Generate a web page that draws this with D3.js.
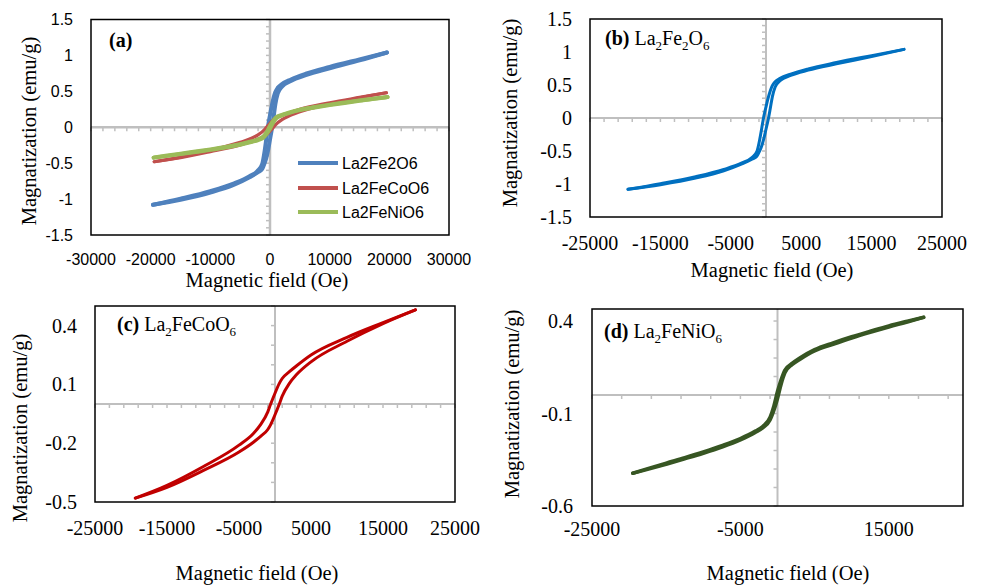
<!DOCTYPE html>
<html>
<head>
<meta charset="utf-8">
<title>M-H loops</title>
<script src="https://d3js.org/d3.v7.min.js"></script>
<style>
  body { margin: 0; background: #fff; }
  .sans { font-family: "Liberation Sans", Arial, sans-serif; }
  .serif { font-family: "Liberation Serif", "Times New Roman", serif; }
</style>
</head>
<body>
<svg id="chart" width="983" height="585"></svg>
<script>
// hysteresis loops (Oe, emu/g)
// each sample: field grid, upper (descending) branch, lower (ascending) branch
var fieldFe2 = [-19600, -15000, -10000, -6000, -3500, -2000, -1300, -900, -600, -300, 0,
                300, 600, 900, 1300, 2000, 3500, 6000, 10000, 15000, 19600];
var upperFe2 = [-1.08, -0.995, -0.89, -0.78, -0.685, -0.60, -0.51, -0.33, -0.15, 0.03, 0.17,
                0.30, 0.41, 0.49, 0.55, 0.60, 0.665, 0.745, 0.84, 0.945, 1.04];
var lowerFe2 = [-1.08, -1.01, -0.91, -0.80, -0.70, -0.625, -0.58, -0.50, -0.42, -0.31, -0.17,
                -0.03, 0.14, 0.32, 0.47, 0.565, 0.645, 0.725, 0.82, 0.93, 1.04];

var fieldCo = [-19400, -15000, -10000, -5000, -3000, -2000, -1000, -600, 0,
               600, 1000, 2000, 3000, 5000, 10000, 15000, 19500];
var upperCo = [-0.48, -0.415, -0.32, -0.21, -0.15, -0.105, -0.04, 0.0, 0.055,
               0.105, 0.13, 0.165, 0.195, 0.25, 0.34, 0.415, 0.48];
var lowerCo = [-0.48, -0.425, -0.34, -0.245, -0.195, -0.165, -0.13, -0.105, -0.055,
               0.0, 0.04, 0.105, 0.15, 0.215, 0.32, 0.41, 0.48];

var fieldNi = [-19500, -17500, -15000, -12500, -10000, -7500, -5000, -3000, -2000, -1000, -500, 0,
               500, 1000, 2000, 3000, 5000, 7500, 10000, 12500, 15000, 17500, 19700];
var upperNi = [-0.423, -0.398, -0.368, -0.339, -0.308, -0.274, -0.235, -0.195, -0.17, -0.12, -0.06, 0.02,
               0.085, 0.135, 0.172, 0.20, 0.245, 0.282, 0.315, 0.345, 0.374, 0.399, 0.42];
var lowerNi = [-0.423, -0.402, -0.374, -0.345, -0.315, -0.282, -0.243, -0.203, -0.178, -0.135, -0.085, -0.02,
               0.06, 0.12, 0.165, 0.192, 0.238, 0.274, 0.308, 0.339, 0.368, 0.395, 0.42];

var sampleNames = ["La2Fe2O6", "La2FeCoO6", "La2FeNiO6"];

var xTicksA = [-30000, -20000, -10000, 0, 10000, 20000, 30000];
var xTicksBC = [-25000, -15000, -5000, 5000, 15000, 25000];
var xTicksD = [-25000, -5000, 15000];
var yTicksAB = [1.5, 1, 0.5, 0, -0.5, -1, -1.5];
var yTicksC = [0.4, 0.1, -0.2, -0.5];
var yTicksD = [0.4, -0.1, -0.6];

var loops = {
  fe2: { field: fieldFe2, upper: upperFe2, lower: lowerFe2 },
  co: { field: fieldCo, upper: upperCo, lower: lowerCo },
  ni: { field: fieldNi, upper: upperNi, lower: lowerNi }
};

var panels = [
  { box: [91, 19.5, 449, 235], xDom: [-30000, 30000], yDom: [-1.5, 1.5],
    xTicks: xTicksA, yTicks: yTicksAB, xMinor: 2000, yMinor: 0.1,
    tickClass: "sans", tickSize: 16, xLabY: 30, yLabX: 18, axisW: 2.5,
    label: ["(a)"], labelPos: [109, 47],
    xTitle: [267, 287], yTitle: [36, 131],
    series: [
      { loop: "fe2", color: "#4F81BD", width: 4 },
      { loop: "co", color: "#C0504D", width: 3.2 },
      { loop: "ni", color: "#9BBB59", width: 4 }
    ] },
  { box: [590, 19, 942, 217], xDom: [-25000, 25000], yDom: [-1.5, 1.5],
    xTicks: xTicksBC, yTicks: yTicksAB, xMinor: 2000, yMinor: 0.1,
    tickClass: "serif", tickSize: 20, xLabY: 33, yLabX: 18, axisW: 2,
    label: ["(b)", "La", "2", "Fe", "2", "O", "6"], labelPos: [605, 45],
    xTitle: [772, 277], yTitle: [517, 113],
    series: [{ loop: "fe2", color: "#0070C0", width: 3 }] },
  { box: [95, 306, 455, 502], xDom: [-25000, 25000], yDom: [-0.5, 0.5],
    xTicks: xTicksBC, yTicks: yTicksC, xMinor: 2000, yMinor: 0.1,
    tickClass: "serif", tickSize: 20, xLabY: 33, yLabX: 18, axisW: 2,
    label: ["(c)", "La", "2", "FeCo", "O", "6"], labelPos: [117, 331],
    xTitle: [257, 580], yTitle: [27, 428],
    series: [{ loop: "co", color: "#C00000", width: 3 }] },
  { box: [592, 309, 963, 506], xDom: [-25000, 25000], yDom: [-0.6, 0.465],
    xTicks: xTicksD, yTicks: yTicksD, xMinor: 4000, yMinor: 0.1,
    tickClass: "serif", tickSize: 20, xLabY: 30, yLabX: 19, axisW: 2,
    label: ["(d)", "La", "2", "FeNi", "O", "6"], labelPos: [604, 338],
    xTitle: [788, 580], yTitle: [519, 404],
    series: [{ loop: "ni", color: "#375623", width: 3.5 }] }
];

var svg = d3.select("#chart");

panels.forEach(function (p) {
  var x0 = p.box[0], y0 = p.box[1], x1 = p.box[2], y1 = p.box[3];
  var x = d3.scaleLinear().domain(p.xDom).range([x0, x1]);
  var y = d3.scaleLinear().domain(p.yDom).range([y1, y0]);
  var g = svg.append("g");

  // zero axes (Excel style, crossing at origin)
  var grey = "#BFBFBF";
  g.append("line").attr("x1", x0).attr("x2", x1)
    .attr("y1", y(0)).attr("y2", y(0))
    .attr("stroke", grey).attr("stroke-width", p.axisW);
  g.append("line").attr("x1", x(0)).attr("x2", x(0))
    .attr("y1", y0).attr("y2", y1)
    .attr("stroke", grey).attr("stroke-width", p.axisW);

  // minor ticks
  var xm = d3.range(p.xDom[0], p.xDom[1] + 1, p.xMinor);
  g.selectAll(".xm").data(xm).enter().append("line")
    .attr("x1", d => x(d)).attr("x2", d => x(d))
    .attr("y1", y(0)).attr("y2", y(0) + 4)
    .attr("stroke", grey).attr("stroke-width", 1.5);
  var ym = d3.range(Math.ceil(p.yDom[0] * 10), Math.floor(p.yDom[1] * 10) + 1)
    .map(d => d / 10);
  g.selectAll(".ym").data(ym).enter().append("line")
    .attr("x1", x(0) - 4).attr("x2", x(0))
    .attr("y1", d => y(d)).attr("y2", d => y(d))
    .attr("stroke", grey).attr("stroke-width", 1.5);

  // curves
  var line = d3.line()
    .x(d => x(d[0])).y(d => y(d[1]))
    .curve(d3.curveMonotoneX);
  p.series.forEach(function (s) {
    var L = loops[s.loop];
    ["upper", "lower"].forEach(function (b) {
      var pts = L.field.map((h, i) => [h, L[b][i]]);
      g.append("path").datum(pts)
        .attr("d", line)
        .attr("fill", "none")
        .attr("stroke", s.color)
        .attr("stroke-width", s.width)
        .attr("stroke-linecap", "round")
        .attr("stroke-linejoin", "round");
    });
  });

  // frame
  g.append("rect").attr("x", x0).attr("y", y0)
    .attr("width", x1 - x0).attr("height", y1 - y0)
    .attr("fill", "none").attr("stroke", "#000").attr("stroke-width", 1.5);

  // tick labels
  g.selectAll(".xl").data(p.xTicks).enter().append("text")
    .attr("class", p.tickClass)
    .attr("x", d => x(d)).attr("y", y1 + p.xLabY)
    .attr("text-anchor", "middle")
    .style("font-size", p.tickSize + "px")
    .text(d => String(d));
  g.selectAll(".yl").data(p.yTicks).enter().append("text")
    .attr("class", p.tickClass)
    .attr("x", x0 - p.yLabX).attr("y", d => y(d))
    .attr("dy", "0.35em")
    .attr("text-anchor", "end")
    .style("font-size", p.tickSize + "px")
    .text(d => String(d));

  // axis titles
  g.append("text").attr("class", "serif")
    .attr("x", p.xTitle[0]).attr("y", p.xTitle[1])
    .attr("text-anchor", "middle").style("font-size", "20.5px")
    .text("Magnetic field (Oe)");
  g.append("text").attr("class", "serif")
    .attr("transform", "translate(" + p.yTitle[0] + "," + p.yTitle[1] + ") rotate(-90)")
    .attr("text-anchor", "middle").style("font-size", "20.5px")
    .text("Magnatization (emu/g)");

  // panel label, digits as subscripts
  var t = g.append("text").attr("class", "serif")
    .attr("x", p.labelPos[0]).attr("y", p.labelPos[1])
    .style("font-size", "20px");
  p.label.forEach(function (part, i) {
    if (i === 0) {
      t.append("tspan").attr("font-weight", "bold").text(part + " ");
    } else if (/^\d$/.test(part)) {
      t.append("tspan").attr("dy", 5).style("font-size", "13px").text(part);
    } else {
      var ts = t.append("tspan").text(part);
      if (/^\d$/.test(p.label[i - 1])) ts.attr("dy", -5);
    }
  });
});

// legend in panel (a)
var legendY = [163, 188, 212];
var legendColors = ["#4F81BD", "#C0504D", "#9BBB59"];
var leg = svg.append("g");
sampleNames.forEach(function (name, i) {
  leg.append("line").attr("x1", 298).attr("x2", 338)
    .attr("y1", legendY[i]).attr("y2", legendY[i])
    .attr("stroke", legendColors[i]).attr("stroke-width", 4);
  leg.append("text").attr("class", "sans")
    .attr("x", 342).attr("y", legendY[i]).attr("dy", "0.35em")
    .style("font-size", "16px").text(name);
});
</script>
</body>
</html>
